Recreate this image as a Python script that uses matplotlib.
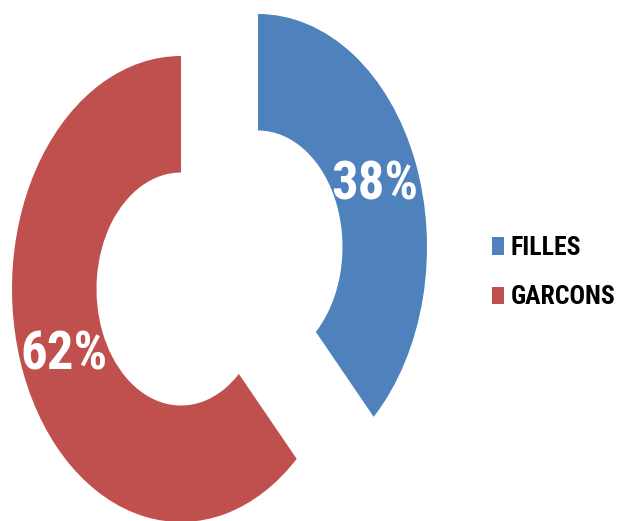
import matplotlib
matplotlib.use("Agg")
import matplotlib.pyplot as plt
from matplotlib import font_manager

# ------------------ DATA ------------------
labels = ['FILLES', 'GARCONS']
values = [38, 62]
colors = ['#4F81BD', '#C0504D']

# condensed bold font, similar to Arial Narrow
names = {f.name for f in font_manager.fontManager.ttflist}
family = 'DejaVu Sans'
for cand in ['Liberation Sans Narrow', 'Arial Narrow', 'Roboto Condensed', 'Open Sans Condensed']:
    if cand in names:
        family = cand
        break

fig = plt.figure(figsize=(6.17, 5.21), dpi=100)
ax = fig.add_axes([0, 0, 1, 1])

wedges, texts = ax.pie(values, colors=colors, startangle=90, counterclock=False,
                       explode=[0.245, 0.245], radius=1.0,
                       wedgeprops=dict(width=0.5, linewidth=0))

# the original picture is stretched vertically, so drop the equal aspect
ax.set_aspect('auto')
ax.set_xlim(-219.5 / 169, (617 - 219.5) / 169)
ax.set_ylim((268 - 521) / 233, 268 / 233)

# percentage labels
label_pos = [(0.92, 0.355), (-0.92, -0.375)]
for v, (x, y) in zip(values, label_pos):
    ax.text(x, y, f'{v}%', color='white', fontsize=38, fontweight='bold',
            family=family, fontstretch='condensed', ha='center', va='center')

leg = fig.legend(wedges, labels, loc='upper left', bbox_to_anchor=(492 / 617, 1 - 236 / 521),
                 frameon=False,
                 prop=dict(family=family, weight='bold', size=18.5, stretch='condensed'),
                 handlelength=0.47, handleheight=0.66, handletextpad=0.25,
                 labelspacing=0.99, borderaxespad=0, borderpad=0)

fig.savefig('out.png', dpi=100)
